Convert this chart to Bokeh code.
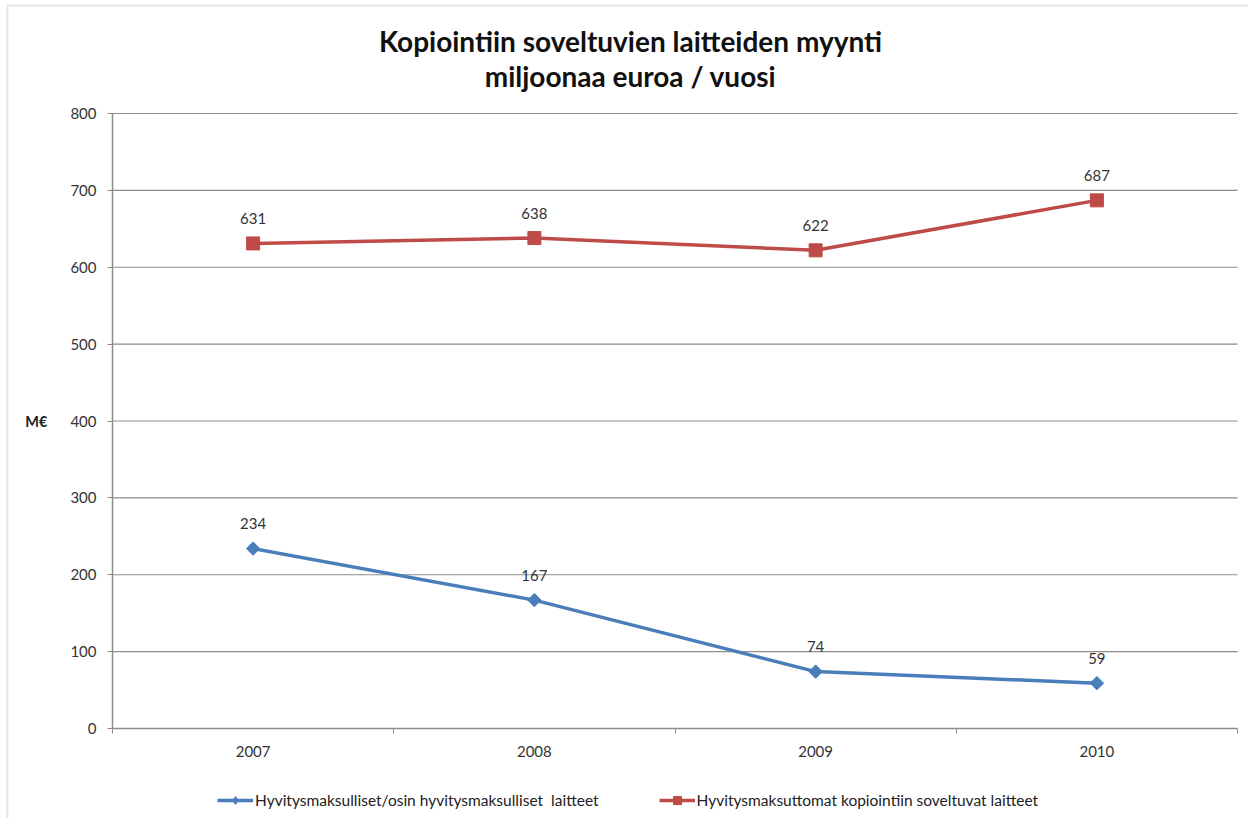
from bokeh.plotting import figure
from bokeh.models import (FixedTicker, Legend, LegendItem, ColumnDataSource, Label,
                          BoxAnnotation)
from bokeh.core.properties import value
from bokeh.embed import file_html
from bokeh.resources import INLINE

years = ["2007", "2008", "2009", "2010"]
paid = [234, 167, 74, 59]
free = [631, 638, 622, 687]
y_ticks = [0, 100, 200, 300, 400, 500, 600, 700, 800]
title_lines = ["Kopiointiin soveltuvien laitteiden myynti", "miljoonaa euroa / vuosi"]
series_names = ["Hyvitysmaksulliset/osin hyvitysmaksulliset  laitteet",
                "Hyvitysmaksuttomat kopiointiin soveltuvat laitteet"]
y_label = "M€"

BLUE = "#4A7EBB"
RED = "#BE4B48"
GRID = "#8C8C8C"
FONT = "Lato"

# canvas layout (pixels)
W, H = 1248, 818
PL, PR, PT, PB = 112, 1237, 113, 728      # plot-area edges
n = len(years)
ymax = y_ticks[-1]
sx = (PR - PL) / n
sy = (PB - PT) / ymax

xs = [i + 0.5 for i in range(n)]
src = ColumnDataSource(dict(x=xs, paid=paid, free=free,
                            paid_t=[str(v) for v in paid],
                            free_t=[str(v) for v in free]))
grid_src = ColumnDataSource(dict(y=y_ticks[1:], x0=[0] * (len(y_ticks) - 1),
                                 x1=[n] * (len(y_ticks) - 1)))

p = figure(width=W, height=H, output_backend="svg", toolbar_location=None,
           x_range=(-PL / sx, n + (W - PR) / sx),
           y_range=(-(H - PB) / sy, ymax + PT / sy),
           min_border=0)
p.outline_line_color = None
p.xgrid.visible = False
p.ygrid.visible = False

# gridlines limited to the plot area
p.segment(x0="x0", x1="x1", y0="y", y1="y", source=grid_src,
          line_color=GRID, line_width=1.2)

# x axis
p.xaxis.fixed_location = 0
p.xaxis.bounds = (0, n)
p.xaxis.ticker = FixedTicker(ticks=xs, minor_ticks=list(range(n + 1)))
p.xaxis.major_label_overrides = {x: y for x, y in zip(xs, years)}
p.xaxis.major_tick_out = 0
p.xaxis.major_tick_in = 0
p.xaxis.minor_tick_out = 5
p.xaxis.minor_tick_in = 0
p.xaxis.minor_tick_line_color = GRID
p.xaxis.axis_line_color = GRID
p.xaxis.axis_line_width = 1.5
p.xaxis.major_label_standoff = 12
p.xaxis.major_label_text_font = FONT
p.xaxis.major_label_text_font_size = "15px"
p.xaxis.major_label_text_color = "#333333"

# y axis
p.yaxis.fixed_location = 0
p.yaxis.bounds = (0, ymax)
p.yaxis.ticker = FixedTicker(ticks=y_ticks)
p.yaxis.minor_tick_line_color = None
p.yaxis.major_tick_out = 5
p.yaxis.major_tick_in = 0
p.yaxis.major_tick_line_color = GRID
p.yaxis.axis_line_color = GRID
p.yaxis.axis_line_width = 1.5
p.yaxis.major_label_standoff = 11
p.yaxis.major_label_text_font = FONT
p.yaxis.major_label_text_font_size = "15px"
p.yaxis.major_label_text_color = "#333333"
p.yaxis.axis_label = y_label
p.yaxis.axis_label_orientation = "horizontal"
p.yaxis.axis_label_standoff = 20
p.yaxis.axis_label_text_font = FONT
p.yaxis.axis_label_text_font_style = "bold"
p.yaxis.axis_label_text_font_size = "14.5px"
p.yaxis.axis_label_text_color = "#222222"

# series
l1 = p.line("x", "paid", source=src, line_color=BLUE, line_width=3.5)
m1 = p.scatter("x", "paid", source=src, marker="square", angle=0.785398, size=9.5,
               fill_color=BLUE, line_color=BLUE)
l2 = p.line("x", "free", source=src, line_color=RED, line_width=3.5)
m2 = p.scatter("x", "free", source=src, marker="square", size=13,
               fill_color=RED, line_color=RED)
# diamond used only for the legend key
leg_d = p.scatter("x", "paid", source=src, marker="diamond", size=14,
                  fill_color=BLUE, line_color=BLUE, visible=False)

for col, ycol in (("paid_t", "paid"), ("free_t", "free")):
    p.text("x", ycol, text=col, source=src, text_align="center",
           text_baseline="middle", y_offset=-25, text_font=value(FONT),
           text_font_size="15px", text_color="#333333")

# title (two centred lines)
for txt, ty in zip(title_lines, (40, 75)):
    p.add_layout(Label(x=630, y=H - ty, x_units="screen", y_units="screen", text=txt,
                       text_align="center", text_baseline="middle",
                       text_font=FONT, text_font_style="bold", text_font_size="28px",
                       text_color="#111111"))

# outer chart border (left and top edges visible)
p.add_layout(BoxAnnotation(left=7, right=W + 50, top=H - 5, bottom=-50,
                           left_units="screen", right_units="screen",
                           top_units="screen", bottom_units="screen",
                           fill_alpha=0, line_color="#A6A6A6", line_width=2))

legend = Legend(items=[LegendItem(label=series_names[0], renderers=[l1, leg_d]),
                       LegendItem(label=series_names[1], renderers=[l2, m2])],
                orientation="horizontal", location=(217, H - 810),
                padding=0, margin=0, spacing=60, glyph_width=36, glyph_height=20,
                label_standoff=2, label_text_font=FONT, label_text_font_size="15.5px",
                label_text_color="#222222", border_line_color=None,
                background_fill_alpha=0, inactive_fill_alpha=0)
p.add_layout(legend, "center")

open("out.html", "w").write(file_html(p, INLINE))
